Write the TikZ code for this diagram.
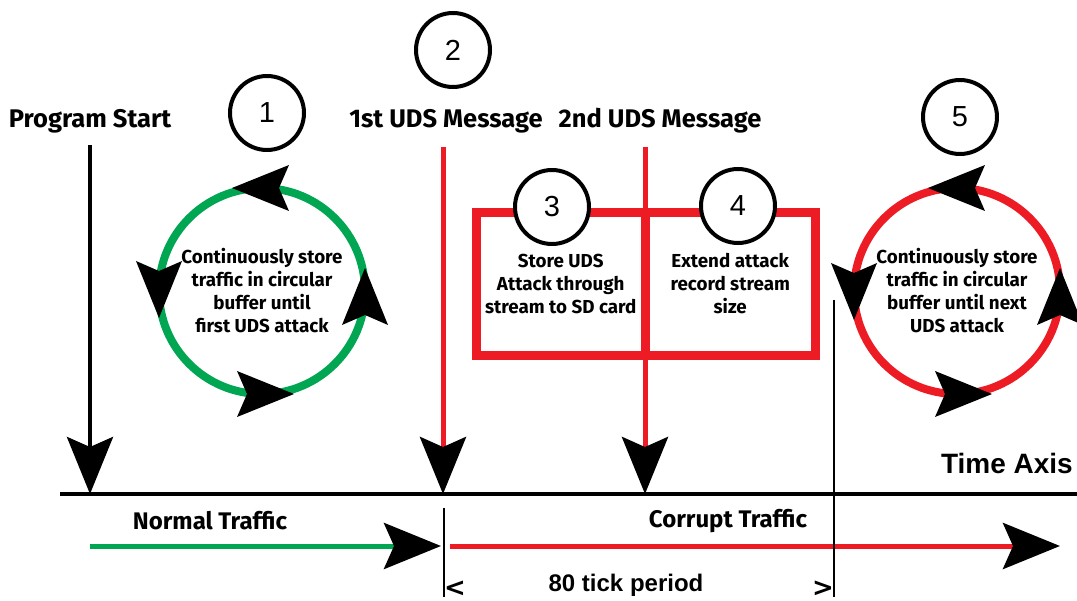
\documentclass[tikz,border=0pt]{standalone}
\usepackage{fontspec}
\setmainfont{Fira Sans}
\newfontfamily\arialfont{Liberation Sans}
\newfontfamily\dvfont{DejaVu Sans}
\usetikzlibrary{arrows.meta}
\definecolor{fgreen}{HTML}{00A651}
\definecolor{fred}{HTML}{ED1C24}

\begin{document}
\begin{tikzpicture}[x=1pt,y=-1pt,
  bigtip/.tip={Stealth[length=57pt,width=46pt,inset=10pt,color=black]},
  hdr/.style={font=\fontsize{25.5}{28}\selectfont\bfseries, inner sep=0pt},
  sub/.style={font=\fontsize{24}{26}\selectfont\bfseries, inner sep=0pt},
  body/.style={font=\fontsize{18.8}{23}\selectfont\bfseries, align=center},
  numcirc/.style={circle, draw=black, line width=4pt, fill=white,
    minimum size=74pt, inner sep=0pt, font=\arialfont\fontsize{29}{30}\selectfont},
  bufcirc/.style={circle, line width=8pt, minimum size=206pt, inner sep=0pt,
    body},
  stagebox/.style={rectangle, draw=fred, line width=9pt, minimum height=143pt,
    inner sep=0pt, body},
  cyclehead/.pic={\fill[black] (30pt,0pt) -- (-27pt,23pt) -- (-17pt,0pt) -- (-27pt,-23pt) -- cycle;},
  event/.style={line width=5pt, -bigtip},
  endmark/.style={font=\dvfont\bfseries\fontsize{26}{28}\selectfont, inner sep=0pt}
]
\useasboundingbox (0,0) rectangle (1077,601);

% event labels
\node[hdr] (ps) at (90,121) {Program Start};
\node[hdr] (m1) at (446,121) {1st UDS Message};
\node[hdr] (m2) at (660,121) {2nd UDS Message};

% points on the time axis
\coordinate (s0) at (90,145);
\coordinate (s1) at (443,147);
\coordinate (s2) at (645,147);
\coordinate (t0) at (90,494);
\coordinate (t1) at (443,494);
\coordinate (t2) at (645,494);
\coordinate (axL) at (60,494);
\coordinate (axR) at (1077,494);

% recording stages
\node[stagebox, minimum width=168.5pt] (st3) at (560.75,284)
  {Store UDS\\Attack through\\stream to SD card};
\node[stagebox, minimum width=170.5pt] (st4) at (730.25,284)
  {Extend attack\\record stream\\size};

% event arrows
\draw[event, line width=4pt, black] (s0) -- (t0);
\draw[event, fred] (s1) -- (t1);
\draw[event, fred] (s2) -- (t2);

% time axis
\draw[line width=4pt] (axL) -- (axR);
\node[font=\arialfont\bfseries\fontsize{28}{30}\selectfont, anchor=east, inner sep=0pt]
  (tax) at (1073,463) {Time Axis};

% circular buffers
\node[bufcirc, draw=fgreen] (buf1) at (262,291)
  {Continuously store\\traffic in circular\\buffer until\\first UDS attack};
\node[bufcirc, draw=fred] (buf2) at (957,291)
  {Continuously store\\traffic in circular\\buffer until next\\UDS attack};
\pic[rotate=180] at (262,188) {cyclehead};
\pic[rotate=-90] at (159,288) {cyclehead};
\pic at (264,394) {cyclehead};
\pic[rotate=90] at (365,298) {cyclehead};
\pic[rotate=180] at (958,188) {cyclehead};
\pic[rotate=-90] at (854,290) {cyclehead};
\pic at (962,394) {cyclehead};
\pic[rotate=90] at (1060,298) {cyclehead};

% step numbers
\node[numcirc] (n1) at (267,113) {1};
\node[numcirc] (n2) at (453,50) {2};
\node[numcirc] (n3) at (552,207) {3};
\node[numcirc] (n4) at (738,206) {4};
\node[numcirc] (n5) at (960,117) {5};

% traffic periods
\coordinate (g0) at (90,546);
\coordinate (g1) at (441,546);
\coordinate (r0) at (450,546);
\coordinate (r1) at (1060,546);
\draw[fgreen, line width=5pt, -bigtip] (g0) -- (g1);
\draw[fred, line width=5pt, -bigtip] (r0) -- (r1);
\node[sub] (nt) at (210,521) {Normal Traffic};
\node[sub] (ct) at (728,521) {Corrupt Traffic};

% 80 tick window
\coordinate (w0a) at (444,508);
\coordinate (w0b) at (444,597);
\coordinate (w1a) at (834,300);
\coordinate (w1b) at (834,597);
\draw[line width=1.5pt] (w0a) -- (w0b);
\draw[line width=1.5pt] (w1a) -- (w1b);
\node[endmark] (lt) at (455,589) {\textless};
\node[endmark] (gt) at (823,589) {\textgreater};
\node[font=\arialfont\bfseries\fontsize{24}{26}\selectfont, inner sep=0pt] (tp) at (626,585) {80 tick period};
\end{tikzpicture}
\end{document}
